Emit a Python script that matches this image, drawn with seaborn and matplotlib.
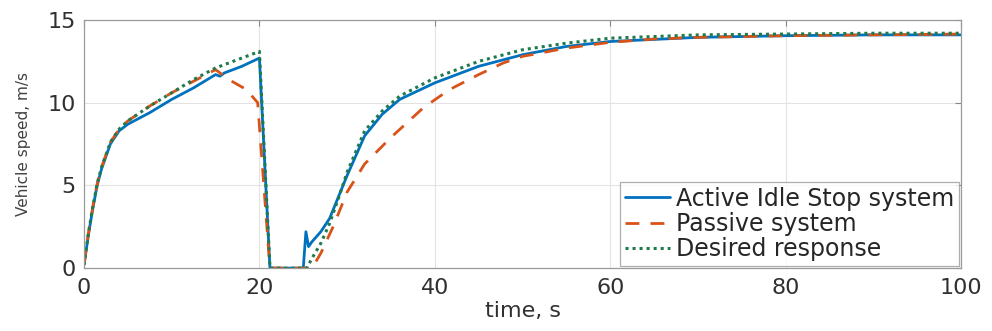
import matplotlib
matplotlib.use("Agg")
import matplotlib.pyplot as plt
import seaborn as sns
import numpy as np

# Active Idle Stop system
t_active = [0, 0.5, 1, 1.5, 2, 3, 4, 5, 7.5, 10, 12.5, 15, 15.5, 16, 18, 20, 21.2, 25,
            25.3, 25.6, 26, 27, 28, 29, 30, 32, 34, 36, 40, 45, 50, 55, 60, 70, 80, 90, 100]
v_active = [0.2, 2.0, 3.6, 5.0, 6.0, 7.5, 8.3, 8.7, 9.4, 10.2, 10.9, 11.7, 11.6, 11.8, 12.2, 12.7, 0, 0,
            2.2, 1.3, 1.6, 2.2, 3.0, 4.3, 5.6, 8.0, 9.3, 10.2, 11.2, 12.2, 12.9, 13.4, 13.7, 13.95, 14.05, 14.1, 14.1]

# Passive system
t_passive = [0, 0.5, 1, 1.5, 2, 3, 4, 5, 7.5, 10, 12.5, 15, 16.5, 18.5, 19.8, 21.2, 26,
             27, 28.4, 30, 32, 35, 38.7, 41.7, 45, 47.8, 50, 53, 55, 60, 65, 70, 80, 90, 100]
v_passive = [0.2, 2.1, 3.7, 5.1, 6.1, 7.6, 8.4, 8.9, 9.8, 10.6, 11.3, 12.0, 11.4, 10.8, 10.0, 0, 0,
             0.9, 2.5, 4.6, 6.3, 7.9, 9.7, 10.8, 11.7, 12.4, 12.8, 13.1, 13.3, 13.65, 13.85, 13.95, 14.05, 14.1, 14.15]

# Desired response
t_desired = [0, 0.5, 1, 1.5, 2, 3, 4, 5, 7.5, 10, 12.5, 15, 17.5, 20, 21.2, 25.4,
             26, 27, 28, 29, 30, 32, 34, 36, 40, 45, 50, 55, 60, 70, 80, 90, 100]
v_desired = [0.2, 2.1, 3.7, 5.1, 6.1, 7.6, 8.4, 8.9, 9.8, 10.6, 11.4, 12.1, 12.6, 13.1, 0, 0,
             0.6, 1.5, 2.7, 4.2, 5.8, 8.3, 9.5, 10.4, 11.5, 12.5, 13.2, 13.6, 13.9, 14.1, 14.15, 14.2, 14.2]

sns.set_style("white")
plt.rcParams['font.family'] = ['DejaVu Sans']

fig = plt.figure(figsize=(9.92, 3.31), dpi=100)
ax = fig.add_axes([0.0847, 0.190, 0.8841, 0.7496])

sns.lineplot(x=t_active, y=v_active, ax=ax, color='#0072BD', linewidth=2.0,
             sort=False, estimator=None, label='Active Idle Stop system')
sns.lineplot(x=t_passive, y=v_passive, ax=ax, color='#D95319', linewidth=2.0,
             sort=False, estimator=None, label='Passive system', linestyle=(0, (5, 4)))
sns.lineplot(x=t_desired, y=v_desired, ax=ax, color='#1F7A4D', linewidth=2.2,
             sort=False, estimator=None, label='Desired response', linestyle=(0, (1, 1.3)))

ax.set_xlim(0, 100)
ax.set_ylim(0, 15)
ax.set_xticks([0, 20, 40, 60, 80, 100])
ax.set_yticks([0, 5, 10, 15])
ax.grid(True, color='#e3e3e3', linewidth=0.8)
ax.tick_params(direction='in', labelsize=16, top=True, right=True, length=4,
               color='#888888', labelcolor='#303030')
ax.tick_params(axis='x', pad=7)
ax.tick_params(axis='y', pad=6)
for s in ax.spines.values():
    s.set_color('#9a9a9a')
    s.set_linewidth(0.9)

ax.set_xlabel('time, s', fontsize=16, color='#303030', labelpad=2)
ax.set_ylabel('Vehicle speed, m/s', fontsize=11, color='#404040', labelpad=12)

leg = ax.legend(loc='lower right', fontsize=17, frameon=True, fancybox=False,
                handlelength=1.9, handletextpad=0.25, borderpad=0.2, labelspacing=0.05,
                borderaxespad=0.1)
leg.get_frame().set_edgecolor('#9a9a9a')
leg.get_frame().set_linewidth(0.9)

fig.savefig('out.png', dpi=100)
